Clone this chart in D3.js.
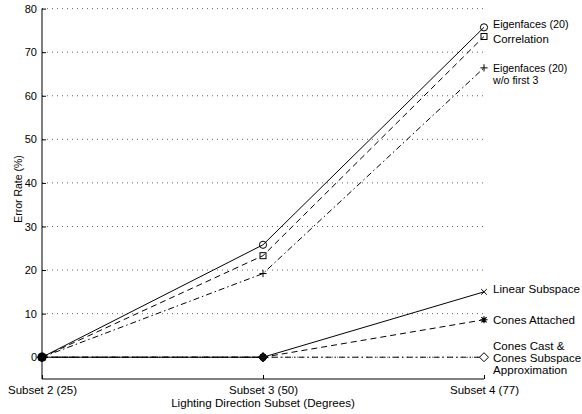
<!DOCTYPE html>
<html>
<head>
<meta charset="utf-8">
<script src="https://cdn.jsdelivr.net/npm/d3@7"></script>
<style>
  html, body { margin: 0; padding: 0; background: #fff; }
  svg text { font-family: "Liberation Sans", Arial, Helvetica, sans-serif; fill: #000; }
</style>
</head>
<body>
<svg id="chart" width="582" height="414"></svg>
<script>
// Lighting direction subsets along the x axis
const subsets = ["Subset 2 (25)", "Subset 3 (50)", "Subset 4 (77)"];
const yTicks = [0, 10, 20, 30, 40, 50, 60, 70, 80];

// Error rates (%) per method, one value per subset
const eigenfaces      = [0, 25.8, 75.7];
const correlation     = [0, 23.3, 73.6];
const eigenfacesNo3   = [0, 19.2, 66.4];
const linearSubspace  = [0, 0, 15.0];
const conesAttached   = [0, 0, 8.6];
const conesCast       = [0, 0, 0];

const methodNames = [
  ["Eigenfaces (20)"],
  ["Correlation"],
  ["Eigenfaces (20)", "w/o first 3"],
  ["Linear Subspace"],
  ["Cones Attached"],
  ["Cones Cast &", "Cones Subspace", "Approximation"]
];

const series = [
  { values: eigenfaces,     dash: null,        marker: "circle" },
  { values: correlation,    dash: "6,4",       marker: "square" },
  { values: eigenfacesNo3,  dash: "6,3,1.5,3", marker: "plus" },
  { values: linearSubspace, dash: null,        marker: "cross" },
  { values: conesAttached,  dash: "6,4",       marker: "star" },
  { values: conesCast,      dash: "6,3,1.5,3", marker: "diamond" }
];
series.forEach((s, i) => s.name = methodNames[i]);

// vertical nudges of the end labels (px, relative to the line end)
// so that neighbouring labels don't run into each other
const labelShift = [-3, 3, 0, -3, 0, -11];
const labelSize  = [10.8, 11.4, 10.6, 11.6, 11.6, 11.6];

const svg = d3.select("#chart");
const plotLeft = 42, plotRight = 484, plotTop = 8.6, plotBottom = 379;

const x = d3.scalePoint().domain(subsets).range([plotLeft, plotRight]);
const y = d3.scaleLinear().domain([-5, 80]).range([plotBottom, plotTop]);

// dotted horizontal grid
svg.append("g").selectAll("line").data(yTicks).join("line")
  .attr("x1", plotLeft).attr("x2", plotRight)
  .attr("y1", d => y(d)).attr("y2", d => y(d))
  .attr("stroke", "#666").attr("stroke-width", 1)
  .attr("stroke-dasharray", "1,4");

// y axis
const yAxis = d3.axisLeft(y).tickValues(yTicks).tickSize(-4).tickPadding(5);
const gy = svg.append("g").attr("transform", `translate(${plotLeft},0)`).call(yAxis);
gy.select(".domain").attr("d", `M0,${plotBottom}V${plotTop}`).attr("stroke", "#000");
gy.selectAll("text").attr("font-size", 11).attr("font-family", "Liberation Sans, Arial, sans-serif");

// x axis
const xAxis = d3.axisBottom(x).tickSize(-4).tickPadding(6.5);
const gx = svg.append("g").attr("transform", `translate(0,${plotBottom})`).call(xAxis);
gx.select(".domain").attr("d", `M${plotLeft},0H${plotRight}`).attr("stroke", "#000");
gx.selectAll("text").attr("font-size", 11.5).attr("font-family", "Liberation Sans, Arial, sans-serif");

svg.append("text").attr("x", x(subsets[1])).attr("y", 407)
  .attr("text-anchor", "middle").attr("font-size", 11.6)
  .text("Lighting Direction Subset (Degrees)");

svg.append("text")
  .attr("transform", `translate(21.5,189) rotate(-90)`)
  .attr("text-anchor", "middle").attr("font-size", 10.5)
  .text("Error Rate (%)");

const line = d3.line().x((d, i) => x(subsets[i])).y(d => y(d));

// draw lines in reverse order so top curves sit over the baseline ones
const plot = svg.append("g");
series.slice().reverse().forEach(s => {
  plot.append("path").datum(s.values)
    .attr("d", line).attr("fill", "none")
    .attr("stroke", "#000").attr("stroke-width", 1)
    .attr("stroke-dasharray", s.dash);
});

function drawMarker(g, type, cx, cy) {
  const r = 3.6;
  switch (type) {
    case "circle":
      g.append("circle").attr("cx", cx).attr("cy", cy).attr("r", r)
        .attr("fill", "none").attr("stroke", "#000");
      break;
    case "square":
      g.append("rect").attr("x", cx - 3).attr("y", cy - 3).attr("width", 6).attr("height", 6)
        .attr("fill", "none").attr("stroke", "#000");
      break;
    case "plus":
      g.append("path").attr("d", `M${cx - r},${cy}H${cx + r}M${cx},${cy - r}V${cy + r}`)
        .attr("stroke", "#000");
      break;
    case "cross":
      g.append("path").attr("d", `M${cx - 2.8},${cy - 2.8}L${cx + 2.8},${cy + 2.8}M${cx - 2.8},${cy + 2.8}L${cx + 2.8},${cy - 2.8}`)
        .attr("stroke", "#000");
      break;
    case "star":
      g.append("path").attr("d",
        `M${cx - r},${cy}H${cx + r}M${cx},${cy - r}V${cy + r}` +
        `M${cx - 2.6},${cy - 2.6}L${cx + 2.6},${cy + 2.6}M${cx - 2.6},${cy + 2.6}L${cx + 2.6},${cy - 2.6}`)
        .attr("stroke", "#000").attr("stroke-width", 1.2);
      break;
    case "diamond":
      g.append("path").attr("d", `M${cx},${cy - 4.5}L${cx + 4.5},${cy}L${cx},${cy + 4.5}L${cx - 4.5},${cy}Z`)
        .attr("fill", "#fff").attr("stroke", "#000");
      break;
  }
}

const markers = svg.append("g");
series.slice().reverse().forEach(s => {
  s.values.forEach((v, i) => drawMarker(markers, s.marker, x(subsets[i]), y(v)));
});

// dense spots where the zero-valued markers pile up
const z0 = y(0);
markers.append("circle").attr("cx", x(subsets[0])).attr("cy", z0)
  .attr("r", 4.6).attr("fill", "#000");
const cx1 = x(subsets[1]);
markers.append("path")
  .attr("d", `M${cx1},${z0 - 4.5}L${cx1 + 4.5},${z0}L${cx1},${z0 + 4.5}L${cx1 - 4.5},${z0}Z`)
  .attr("fill", "#111").attr("stroke", "#000");

// end-of-line labels
const labels = svg.append("g");
series.forEach((s, k) => {
  const yEnd = y(s.values[2]) + labelShift[k];
  const t = labels.append("text")
    .attr("font-size", labelSize[k])
    .attr("x", plotRight + 9)
    .attr("y", yEnd);
  s.name.forEach((ln, j) => {
    t.append("tspan").attr("x", plotRight + 9).attr("dy", j === 0 ? "0.35em" : 12).text(ln);
  });
});
</script>
</body>
</html>
